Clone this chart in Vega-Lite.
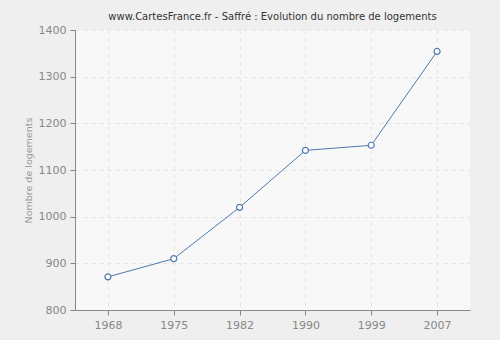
{
  "$schema": "https://vega.github.io/schema/vega-lite/v6.json",
  "width": 395,
  "height": 280,
  "autosize": "none",
  "padding": {"left": 75, "top": 30, "right": 30, "bottom": 30},
  "background": "#efefef",
  "title": {
    "text": "www.CartesFrance.fr - Saffré : Evolution du nombre de logements",
    "font": "DejaVu Sans",
    "fontSize": 10,
    "fontWeight": "normal",
    "color": "#333333",
    "offset": 2
  },
  "config": {
    "view": {"fill": "#f8f8f8", "stroke": null},
    "axis": {
      "labelFont": "DejaVu Sans",
      "labelFontSize": 11,
      "labelColor": "#888888",
      "titleFont": "DejaVu Sans",
      "titleFontSize": 9.5,
      "titleFontWeight": "normal",
      "titleColor": "#999999",
      "domainColor": "#888888",
      "tickColor": "#888888",
      "gridColor": "#e4e4e4",
      "gridDash": [4, 4],
      "labelOverlap": false
    }
  },
  "data": {
    "values": [
      {"annee": "1968", "logements": 871},
      {"annee": "1975", "logements": 910},
      {"annee": "1982", "logements": 1020},
      {"annee": "1990", "logements": 1142},
      {"annee": "1999", "logements": 1153},
      {"annee": "2007", "logements": 1354}
    ]
  },
  "encoding": {
    "x": {
      "field": "annee",
      "type": "ordinal",
      "scale": {"type": "point", "padding": 0.5},
      "axis": {"title": null, "labelAngle": 0, "grid": true, "tickSize": 5, "labelPadding": 4}
    },
    "y": {
      "field": "logements",
      "type": "quantitative",
      "scale": {"domain": [800, 1400]},
      "axis": {"title": "Nombre de logements", "format": "d", "values": [800, 900, 1000, 1100, 1200, 1300, 1400], "tickSize": 5, "labelPadding": 4, "titlePadding": 5}
    }
  },
  "layer": [
    {"mark": {"type": "line", "color": "#4f79ab", "strokeWidth": 1}},
    {"mark": {"type": "point", "shape": "circle", "filled": true, "fill": "#ffffff", "stroke": "#4f79ab", "strokeWidth": 1.2, "size": 36, "opacity": 1}}
  ]
}
